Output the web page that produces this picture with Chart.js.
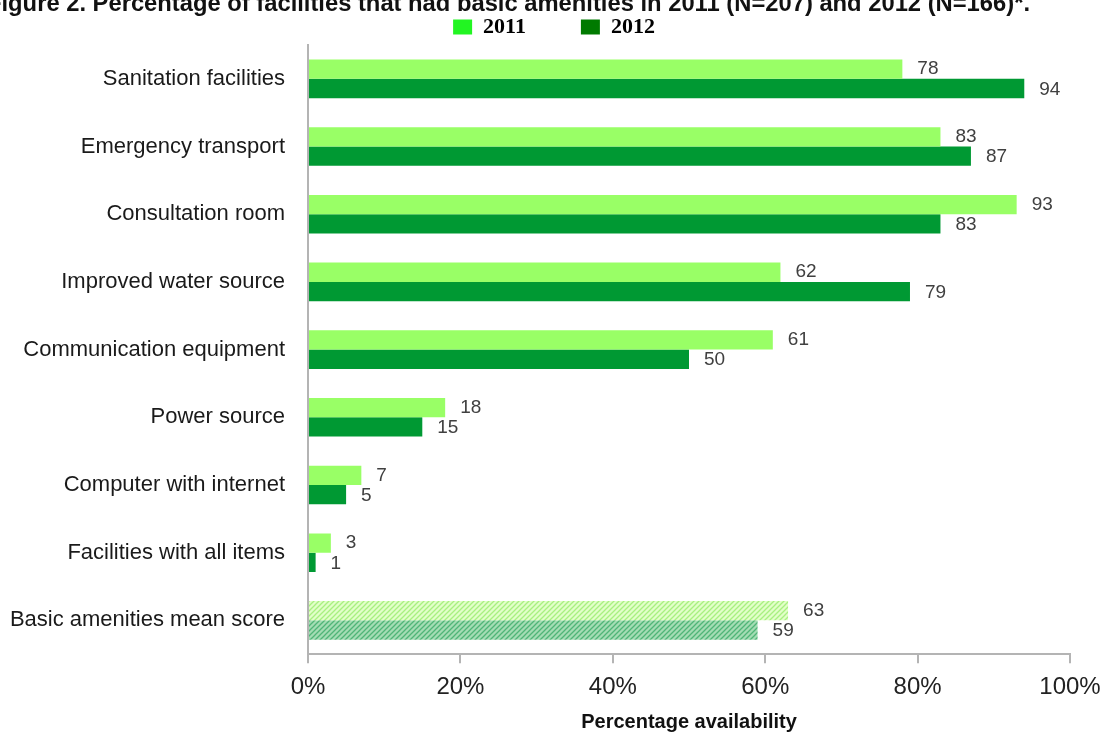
<!DOCTYPE html>
<html>
<head>
<meta charset="utf-8">
<script src="https://cdn.jsdelivr.net/npm/chart.js@4"></script>
<style>
  html, body { margin: 0; padding: 0; background: #fff; overflow: hidden; }
  #wrap { width: 1108px; height: 738px; }
</style>
</head>
<body>
<div id="wrap"><canvas id="amenities-chart"></canvas></div>
<script>
const categories = [
    'Sanitation facilities',
    'Emergency transport',
    'Consultation room',
    'Improved water source',
    'Communication equipment',
    'Power source',
    'Computer with internet',
    'Facilities with all items',
    'Basic amenities mean score'
];
const values2011 = [78, 83, 93, 62, 61, 18, 7, 3, 63];
const values2012 = [94, 87, 83, 79, 50, 15, 5, 1, 59];
const seriesNames = ['2011', '2012'];
const xTicks = [0, 20, 40, 60, 80, 100];
const titleText = 'Figure 2. Percentage of facilities that had basic amenities in 2011 (N=207) and 2012 (N=166)*.';

// diagonal hatch used for the mean score row
function hatch(bg, fg) {
    const c = document.createElement('canvas');
    c.width = 5;
    c.height = 5;
    const g = c.getContext('2d');
    g.fillStyle = bg;
    g.fillRect(0, 0, 5, 5);
    g.strokeStyle = fg;
    g.lineWidth = 1.3;
    g.beginPath();
    g.moveTo(-1, 6); g.lineTo(6, -1);
    g.moveTo(-1, 1); g.lineTo(1, -1);
    g.moveTo(4, 6); g.lineTo(6, 4);
    g.stroke();
    return g.createPattern(c, 'repeat');
}

function barColors(solid, pattern) {
    return categories.map((c, i) => i === categories.length - 1 ? pattern : solid);
}

const ctx = document.getElementById('amenities-chart');

const figureTitle = {
    id: 'figureTitle',
    afterDraw(chart) {
        const c = chart.ctx;
        c.save();
        c.font = 'bold 24px "Liberation Sans"';
        c.fillStyle = '#111';
        c.textBaseline = 'alphabetic';
        c.textAlign = 'left';
        c.fillText(titleText, -13, 11, 1043);
        c.restore();
    }
};

// wide gap between legend items without a tall legend box,
// centred on the whole canvas rather than the padded area
const tightLegend = {
    id: 'tightLegend',
    afterInit(chart) {
        const legend = chart.legend;
        const fit = legend.fit;
        legend.fit = function () {
            fit.call(this);
            this.height -= 3;
        };
    },
    afterLayout(chart) {
        const shift = (chart.width - chart.legend.right - chart.legend.left) / 2;
        chart.legend.left += shift;
        chart.legend.right += shift;
    }
};

const valueLabels = {
    id: 'valueLabels',
    afterDatasetsDraw(chart) {
        const c = chart.ctx;
        c.save();
        c.font = '19px "Liberation Sans"';
        c.fillStyle = '#404040';
        c.textAlign = 'left';
        c.textBaseline = 'middle';
        chart.data.datasets.forEach((ds, d) => {
            chart.getDatasetMeta(d).data.forEach((bar, i) => {
                c.fillText(ds.data[i], bar.x + 15, bar.y + (d === 0 ? 0 : 1));
            });
        });
        c.restore();
    }
};

new Chart(ctx, {
    type: 'bar',
    data: {
        labels: categories,
        datasets: [{
            label: seriesNames[0],
            data: values2011,
            backgroundColor: barColors('#99ff66', hatch('#e2ffc8', '#a8f080')),
            legendColor: '#22f522',
            borderWidth: 0
        }, {
            label: seriesNames[1],
            data: values2012,
            backgroundColor: barColors('#009933', hatch('#a4dcb4', '#4fb577')),
            legendColor: '#007a00',
            borderWidth: 0
        }]
    },
    options: {
        indexAxis: 'y',
        responsive: true,
        maintainAspectRatio: false,
        animation: false,
        datasets: {
            bar: { categoryPercentage: 0.57, barPercentage: 1.0 }
        },
        layout: {
            padding: { top: -39, right: 38, bottom: 6, left: 0 }
        },
        scales: {
            x: {
                min: 0,
                max: 100,
                afterBuildTicks(scale) {
                    scale.ticks = xTicks.map(v => ({ value: v }));
                },
                afterFit(scale) {
                    scale.paddingRight = 0;
                },
                ticks: {
                    callback: v => v + '%',
                    color: '#222',
                    font: { family: 'Liberation Sans', size: 24 },
                    padding: 10
                },
                grid: {
                    drawOnChartArea: false,
                    drawTicks: true,
                    tickLength: 9,
                    color: '#b4b4b4',
                    lineWidth: 2
                },
                border: { color: '#b4b4b4', width: 2 },
                title: {
                    display: true,
                    text: 'Percentage availability',
                    color: '#111',
                    font: { family: 'Liberation Sans', size: 20, weight: 'bold', lineHeight: 1 },
                    padding: { top: 0, bottom: 0 }
                }
            },
            y: {
                afterFit(scale) {
                    scale.width = 308;
                },
                ticks: {
                    color: '#1a1a1a',
                    font: { family: 'Liberation Sans', size: 22 },
                    padding: 23
                },
                grid: { display: false, drawTicks: false },
                border: { color: '#b4b4b4', width: 2 }
            }
        },
        plugins: {
            legend: {
                position: 'top',
                labels: {
                    color: '#000',
                    font: { family: 'Liberation Serif', size: 22, weight: 'bold' },
                    boxWidth: 19,
                    boxHeight: 15,
                    padding: 55,
                    generateLabels(chart) {
                        return chart.data.datasets.map((ds, i) => ({
                            text: ds.label,
                            fillStyle: ds.legendColor,
                            strokeStyle: ds.legendColor,
                            lineWidth: 0,
                            datasetIndex: i
                        }));
                    }
                }
            },
            tooltip: { enabled: false }
        }
    },
    plugins: [figureTitle, tightLegend, valueLabels]
});
</script>
</body>
</html>
